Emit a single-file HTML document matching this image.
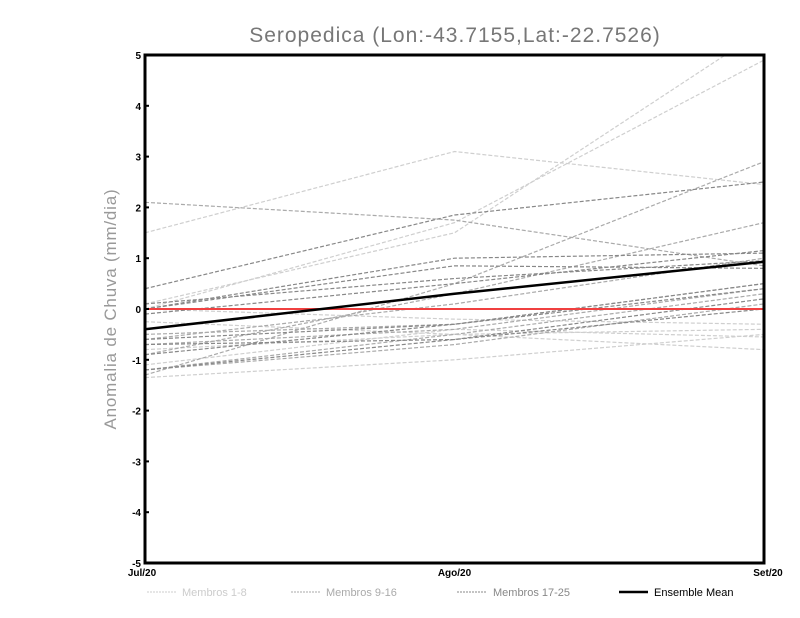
<!DOCTYPE html>
<html><head><meta charset="utf-8"><style>
body{margin:0;background:#fff;}
svg{display:block;font-family:"Liberation Sans",sans-serif;}
</style></head><body>
<svg id="chart" width="800" height="618" viewBox="0 0 800 618">
<text x="455" y="42" text-anchor="middle" font-size="21" fill="#777" letter-spacing="1">Seropedica (Lon:-43.7155,Lat:-22.7526)</text>
<text transform="translate(116,309) rotate(-90)" text-anchor="middle" font-size="17" fill="#999" letter-spacing="0.8">Anomalia de Chuva (mm/dia)</text>
<g id="plot"></g>
<g font-size="11">
<g><line x1="147" y1="592" x2="176" y2="592" stroke="#ccc" stroke-dasharray="2,1"/><text x="182" y="596" fill="#ccc">Membros 1-8</text></g>
<g><line x1="291" y1="592" x2="320" y2="592" stroke="#aaa" stroke-dasharray="2,1"/><text x="326" y="596" fill="#aaa">Membros 9-16</text></g>
<g><line x1="457" y1="592" x2="486" y2="592" stroke="#888" stroke-dasharray="2,1"/><text x="493" y="596" fill="#888">Membros 17-25</text></g>
<g><line x1="619" y1="592" x2="648" y2="592" stroke="#000" stroke-width="2.5"/><text x="654" y="596" fill="#000">Ensemble Mean</text></g>
</g>
</svg>
<script>
const categories = ["Jul/20","Ago/20","Set/20"];
const yTicks = [-5,-4,-3,-2,-1,0,1,2,3,4,5];
const members1to8 = [
 [1.5,3.1,2.45],[0.1,1.5,5.5],[0.0,1.7,4.9],[-1.35,-1.0,-0.5],
 [-0.8,-0.5,-0.8],[-0.25,-0.5,-0.4],[-1.1,-0.4,-0.55],[0.0,-0.2,-0.3]];
const members9to16 = [
 [2.1,1.75,0.85],[-1.3,0.5,2.9],[-0.9,0.3,1.7],[-1.2,-0.5,0.3],
 [-0.5,-0.3,0.5],[-0.6,0.1,1.0],[-1.2,-0.7,0.1],[-0.7,-0.4,0.4]];
const members17to25 = [
 [0.4,1.85,2.5],[0.0,1.0,1.1],[0.0,0.85,0.8],[-0.1,0.5,1.15],
 [-0.6,-0.3,0.5],[-0.7,-0.6,0.0],[-1.2,-0.6,0.2],[-0.9,-0.3,0.4],[0.1,0.6,0.95]];
const ensembleMean = [-0.4,0.3,0.93];

const L=145,R=764,T=55,B=563;
const x=i=>L+(R-L)*i/(categories.length-1);
const y=v=>B-(v+5)/10*(B-T);
const NS="http://www.w3.org/2000/svg";
const g=document.getElementById('plot');
function mk(t,a){const e=document.createElementNS(NS,t);for(const k in a)e.setAttribute(k,a[k]);return e;}
const defs=mk('defs',{});const cp=mk('clipPath',{id:'clip'});cp.appendChild(mk('rect',{x:L,y:T,width:R-L,height:B-T}));defs.appendChild(cp);g.appendChild(defs);
const lines=mk('g',{'clip-path':'url(#clip)'});g.appendChild(lines);
function series(arr,color,name){arr.forEach((s,j)=>{const p=mk('polyline',{points:s.map((v,i)=>x(i)+','+y(v)).join(' '),fill:'none',stroke:color,'stroke-width':1.2,'stroke-dasharray':'4,2'});


lines.appendChild(p);});}
series(members1to8,'#cfcfcf','member-line-group1');
series(members9to16,'#aaaaaa','member-line-group2');
series(members17to25,'#888888','member-line-group3');
const zl=mk('line',{x1:L,x2:R,y1:y(0),y2:y(0),stroke:'#f04040','stroke-width':2});


lines.appendChild(zl);
const mean=mk('polyline',{points:ensembleMean.map((v,i)=>x(i)+','+y(v)).join(' '),fill:'none',stroke:'#000','stroke-width':2.5});


lines.appendChild(mean);
const frame=mk('rect',{x:L,y:T,width:R-L,height:B-T,fill:'none',stroke:'#000','stroke-width':3});


g.appendChild(frame);
yTicks.forEach(v=>{const t=mk('line',{x1:L,x2:L+4,y1:y(v),y2:y(v),stroke:'#000','stroke-width':2});


g.appendChild(t);
const tx=mk('text',{x:L-4,y:y(v)+4,'text-anchor':'end','font-size':10,'font-weight':'bold'});tx.textContent=v;


g.appendChild(tx);});
categories.forEach((c,i)=>{const tx=mk('text',{x:x(i),y:576,'text-anchor':'middle','font-size':10,'font-weight':'bold'});tx.textContent=c;
if(i==0)tx.setAttribute('x',x(i)-3);if(i==2)tx.setAttribute('x',x(i)+4);


g.appendChild(tx);});
</script>
</body></html>
